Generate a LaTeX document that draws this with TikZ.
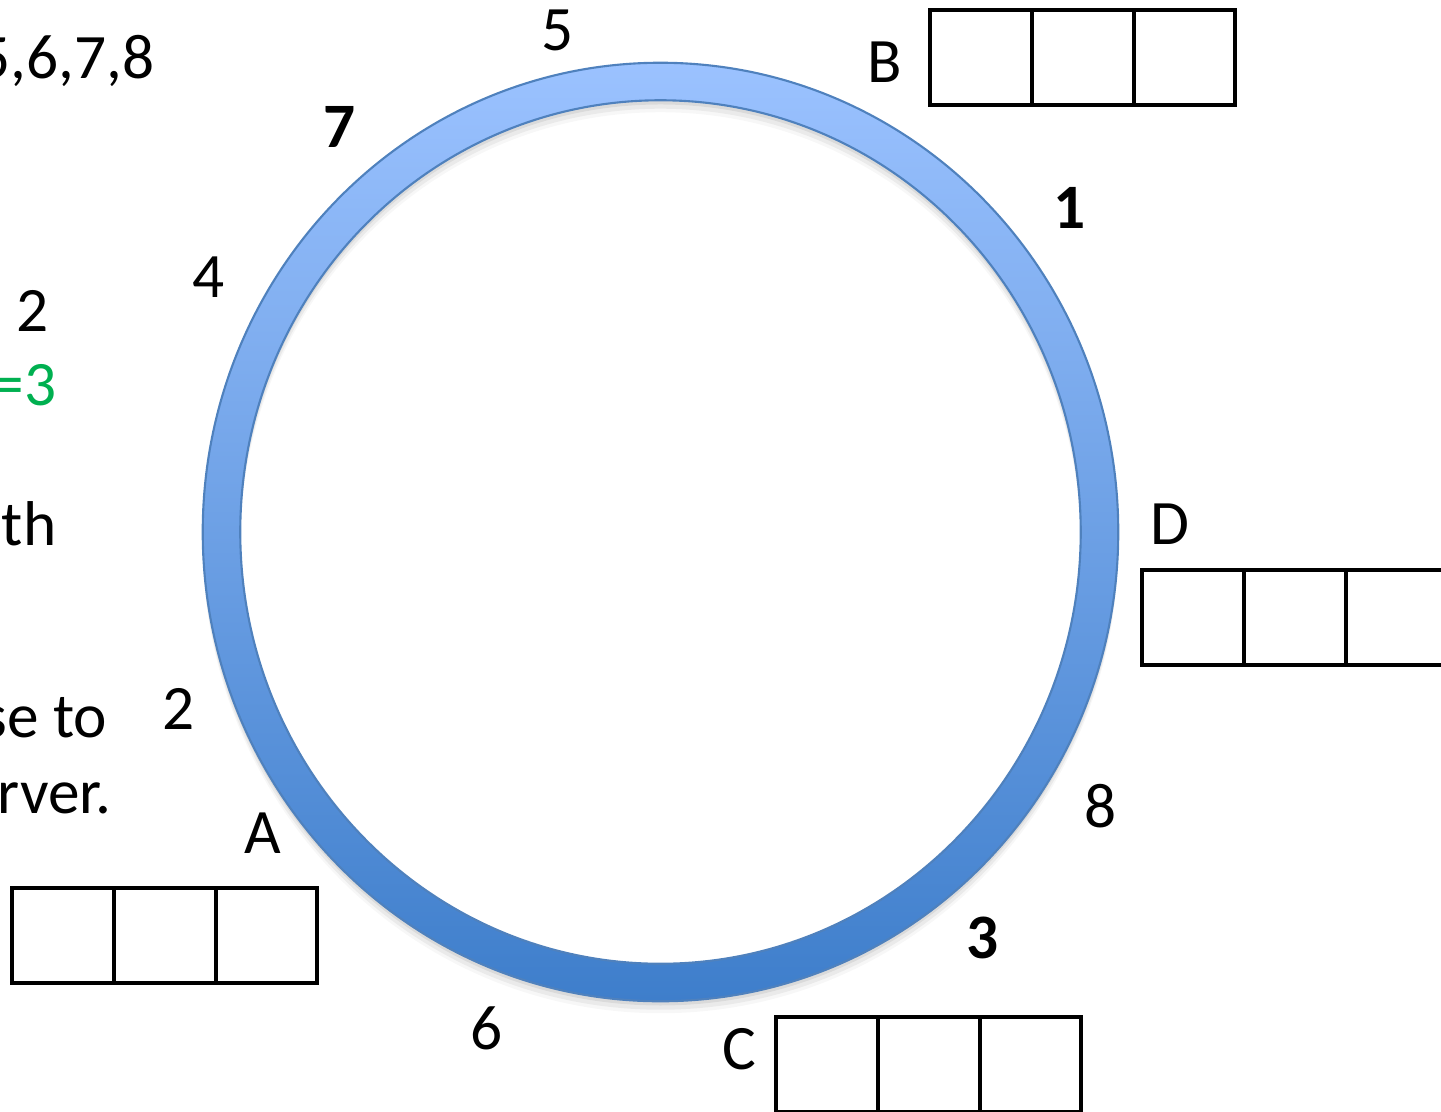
\documentclass[tikz,border=0pt]{standalone}
\usepackage{fontspec}
\setmainfont{Carlito}
\usetikzlibrary{positioning}
\definecolor{RingTop}{RGB}{155,194,255}
\definecolor{RingBottom}{RGB}{62,126,203}
\definecolor{RingEdge}{RGB}{79,129,189}
\definecolor{NoteGreen}{RGB}{0,176,80}

\begin{document}
\begin{tikzpicture}[x=0.01cm, y=-0.01cm,
    lbl/.style={font=\fontsize{18}{21}\selectfont, inner sep=0pt},
    boldlbl/.style={font=\fontsize{18}{21}\selectfont\bfseries, inner sep=0pt},
    note/.style={lbl, anchor=base east},
    cell/.style={draw, line width=1.15pt, minimum width=1.017cm, minimum height=0.95cm, inner sep=0pt, outer sep=0pt},
    node distance=0pt]
  \useasboundingbox (0,0) rectangle (1441,1111);
  \clip (0,0) rectangle (1441,1111);
  % ring with soft shadow
  \coordinate (ring) at (660.5,532);
  \foreach \d/\o in {1.2pt/0.07, 2.4pt/0.05, 3.4pt/0.03}
    \fill[black, opacity=\o, even odd rule] ([yshift=-\d]ring) ellipse [x radius=4.575cm, y radius=4.69cm]
      ([yshift=-\d]ring) ellipse [x radius=4.2cm, y radius=4.315cm];
  \shade[top color=RingTop, bottom color=RingBottom, even odd rule] (ring) ellipse [x radius=4.575cm, y radius=4.69cm]
    (ring) ellipse [x radius=4.2cm, y radius=4.315cm];
  \draw[RingEdge, line width=0.6pt] (ring) ellipse [x radius=4.575cm, y radius=4.69cm]
    (ring) ellipse [x radius=4.2cm, y radius=4.315cm];
  % servers, three slots each
  \foreach \s/\x/\y in {A/63/935.5, B/981/57.5, C/827/1064.5, D/1193/617.5} {
    \node[cell] (\s1) at (\x,\y) {};
    \node[cell, right=of \s1] (\s2) {};
    \node[cell, right=of \s2] (\s3) {};
  }
  \node[lbl] (labA) at (263,833) {A};
  \node[lbl] (labB) at (885,62) {B};
  \node[lbl] (labC) at (739,1049) {C};
  \node[lbl] (labD) at (1170,524) {D};
  % keys on the ring
  \foreach \k/\x/\y in {5/558/30, 4/209/277, 2/179/709, 8/1101/806, 6/487/1028}
    \node[lbl] (key\k) at (\x,\y) {\k};
  \foreach \k/\x/\y in {7/340/127, 1/1070/208, 3/983/938}
    \node[boldlbl] (key\k) at (\x,\y) {\k};
  % cut-off notes on the left
  \node[note] (noteA) at (155,78) {5,6,7,8};
  \node[lbl] (noteB) at (33,311) {2};
  \node[note, text=NoteGreen] (noteC) at (57,405) {=3};
  \node[note] (noteD) at (57,545) {th};
  \node[note] (noteE) at (108,737) {se to};
  \node[note] (noteF) at (112,813) {rver.};
\end{tikzpicture}
\end{document}
